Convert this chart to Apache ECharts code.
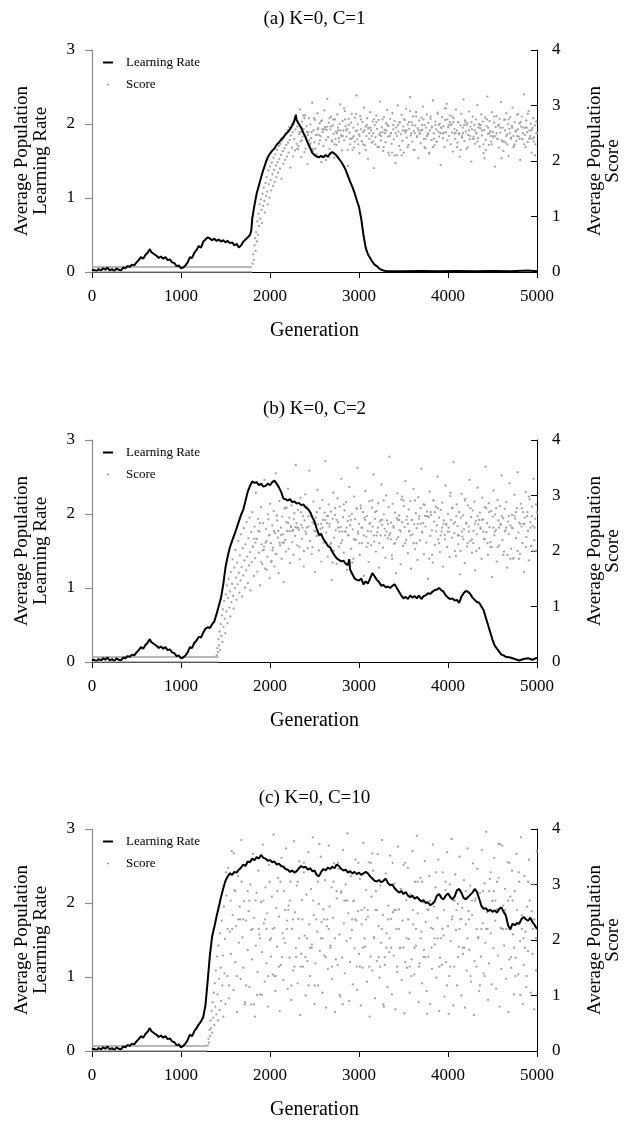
<!DOCTYPE html>
<html>
<head>
<meta charset="utf-8">
<script src="https://cdn.jsdelivr.net/npm/echarts@6/dist/echarts.min.js"></script>
<style>
html,body{margin:0;padding:0;background:#fff;}
#chart{width:629px;height:1121px;}
</style>
</head>
<body>
<div id="chart"></div>
<script>
// ---------- DATA ----------
const titles = ['(a) K=0, C=1', '(b) K=0, C=2', '(c) K=0, C=10'];
const legendNames = ['Learning Rate', 'Score'];
const xTitle = 'Generation';
const leftTitle = 'Average Population\nLearning Rate';
const rightTitle = 'Average Population\nScore';

// learning rate, generations 0..1000 (identical start in all runs)
const rateEarly = [[0,0.02],[25,0.03],[50,0.01],[75,0.04],[100,0.02],[125,0.05],[150,0.03],[175,0.06],[200,0.02],[225,0.04],[250,0.01],[275,0.05],[300,0.03],[325,0.02],[350,0.06],[375,0.05],[400,0.08],[425,0.07],[450,0.1],[475,0.09],[500,0.13],[525,0.16],[550,0.2],[575,0.18],[600,0.23],[625,0.26],[650,0.31],[665,0.27],[680,0.29],[700,0.24],[725,0.22],[750,0.19],[775,0.21],[800,0.18],[825,0.2],[850,0.16],[875,0.17],[900,0.13],[925,0.12],[950,0.08],[975,0.09],[1000,0.05]];

const rateA = [[1025,0.06],[1050,0.09],[1075,0.13],[1100,0.2],[1125,0.19],[1150,0.26],[1175,0.3],[1200,0.35],[1225,0.33],[1250,0.41],[1275,0.44],[1300,0.47],[1325,0.45],[1350,0.43],[1375,0.45],[1400,0.42],[1425,0.44],[1450,0.41],[1475,0.43],[1500,0.4],[1525,0.42],[1550,0.39],[1575,0.4],[1600,0.36],[1625,0.38],[1650,0.33],[1675,0.36],[1700,0.41],[1725,0.44],[1750,0.47],[1775,0.5],[1790,0.56],[1800,0.72],[1825,0.9],[1850,1.06],[1875,1.17],[1900,1.28],[1925,1.38],[1950,1.47],[1975,1.55],[2000,1.6],[2025,1.64],[2050,1.67],[2075,1.72],[2100,1.75],[2125,1.79],[2150,1.82],[2175,1.86],[2200,1.89],[2225,1.93],[2250,1.98],[2270,2.03],[2290,2.12],[2300,2.05],[2325,2.0],[2350,1.95],[2375,1.88],[2400,1.82],[2425,1.74],[2450,1.68],[2475,1.61],[2500,1.58],[2525,1.56],[2550,1.55],[2575,1.57],[2600,1.55],[2625,1.58],[2650,1.56],[2675,1.6],[2700,1.62],[2725,1.6],[2750,1.57],[2775,1.53],[2800,1.49],[2825,1.44],[2850,1.38],[2875,1.3],[2900,1.22],[2925,1.15],[2950,1.07],[2975,0.97],[3000,0.88],[3025,0.72],[3050,0.5],[3075,0.33],[3100,0.24],[3125,0.19],[3150,0.14],[3175,0.1],[3200,0.08],[3225,0.05],[3250,0.03],[3275,0.02],[3300,0.015],[3500,0.01],[3700,0.015],[3900,0.01],[4100,0.012],[4300,0.01],[4500,0.015],[4700,0.01],[4900,0.02],[5000,0.01]];

const rateB = [[1025,0.06],[1050,0.09],[1075,0.13],[1100,0.2],[1125,0.19],[1150,0.26],[1175,0.29],[1200,0.34],[1225,0.33],[1250,0.4],[1275,0.45],[1300,0.47],[1325,0.46],[1350,0.51],[1375,0.55],[1400,0.65],[1425,0.76],[1450,0.87],[1475,1.05],[1500,1.28],[1525,1.43],[1550,1.55],[1575,1.64],[1600,1.72],[1625,1.81],[1650,1.9],[1675,1.99],[1700,2.06],[1725,2.18],[1750,2.3],[1775,2.38],[1800,2.44],[1825,2.42],[1850,2.43],[1875,2.39],[1900,2.41],[1925,2.37],[1950,2.38],[1975,2.41],[2000,2.39],[2025,2.43],[2050,2.45],[2075,2.41],[2100,2.36],[2125,2.3],[2150,2.21],[2175,2.2],[2200,2.18],[2225,2.2],[2250,2.16],[2275,2.17],[2300,2.14],[2325,2.15],[2350,2.12],[2375,2.13],[2400,2.09],[2425,2.07],[2450,2.03],[2475,1.96],[2500,1.9],[2525,1.8],[2550,1.72],[2575,1.73],[2600,1.66],[2625,1.62],[2650,1.57],[2675,1.55],[2700,1.49],[2725,1.44],[2750,1.4],[2775,1.38],[2800,1.36],[2825,1.37],[2850,1.33],[2875,1.31],[2890,1.39],[2900,1.25],[2925,1.19],[2950,1.13],[2975,1.11],[3000,1.1],[3025,1.13],[3050,1.05],[3075,1.09],[3100,1.06],[3125,1.13],[3150,1.2],[3175,1.16],[3200,1.11],[3225,1.08],[3250,1.03],[3275,1.04],[3300,1.01],[3325,1.02],[3350,1.0],[3375,1.03],[3400,1.05],[3425,1.0],[3450,0.95],[3475,0.9],[3500,0.86],[3525,0.88],[3550,0.85],[3575,0.9],[3600,0.87],[3625,0.89],[3650,0.86],[3675,0.9],[3700,0.85],[3725,0.89],[3750,0.9],[3775,0.93],[3800,0.92],[3825,0.95],[3850,0.97],[3875,0.98],[3900,1.0],[3925,0.97],[3950,0.95],[3975,0.9],[4000,0.87],[4025,0.85],[4050,0.86],[4075,0.83],[4100,0.84],[4125,0.8],[4150,0.88],[4175,0.93],[4200,0.96],[4225,0.95],[4250,0.92],[4275,0.87],[4300,0.84],[4325,0.81],[4350,0.8],[4375,0.75],[4400,0.7],[4425,0.6],[4450,0.5],[4475,0.4],[4500,0.3],[4525,0.22],[4550,0.18],[4575,0.14],[4600,0.1],[4625,0.09],[4650,0.07],[4700,0.06],[4750,0.04],[4800,0.02],[4850,0.04],[4900,0.05],[4950,0.03],[5000,0.06]];

const rateC = [[1025,0.07],[1050,0.1],[1075,0.15],[1100,0.22],[1125,0.2],[1150,0.27],[1175,0.31],[1200,0.36],[1225,0.4],[1250,0.46],[1275,0.62],[1300,0.95],[1325,1.3],[1350,1.55],[1375,1.68],[1400,1.82],[1425,1.95],[1450,2.08],[1475,2.2],[1500,2.3],[1525,2.36],[1550,2.4],[1575,2.38],[1600,2.42],[1625,2.41],[1650,2.45],[1675,2.48],[1700,2.52],[1725,2.5],[1750,2.56],[1775,2.55],[1800,2.6],[1825,2.58],[1850,2.62],[1875,2.6],[1900,2.65],[1925,2.61],[1950,2.6],[1975,2.57],[2000,2.58],[2025,2.55],[2050,2.56],[2075,2.52],[2100,2.53],[2125,2.5],[2150,2.49],[2175,2.46],[2200,2.45],[2225,2.42],[2250,2.44],[2275,2.41],[2300,2.43],[2325,2.47],[2350,2.5],[2375,2.48],[2400,2.49],[2425,2.45],[2450,2.47],[2475,2.43],[2500,2.44],[2525,2.38],[2550,2.36],[2575,2.42],[2600,2.46],[2625,2.44],[2650,2.48],[2675,2.46],[2700,2.49],[2725,2.47],[2750,2.52],[2775,2.5],[2800,2.46],[2825,2.44],[2850,2.45],[2875,2.41],[2900,2.43],[2925,2.4],[2950,2.42],[2975,2.39],[3000,2.41],[3025,2.38],[3050,2.4],[3075,2.42],[3100,2.4],[3125,2.36],[3150,2.33],[3175,2.3],[3200,2.29],[3225,2.31],[3250,2.28],[3275,2.3],[3300,2.33],[3325,2.27],[3350,2.24],[3375,2.25],[3400,2.2],[3425,2.17],[3450,2.14],[3475,2.16],[3500,2.12],[3525,2.15],[3550,2.1],[3575,2.08],[3600,2.1],[3625,2.06],[3650,2.08],[3675,2.05],[3700,2.02],[3725,2.04],[3750,2.0],[3775,2.01],[3800,1.97],[3825,1.99],[3850,2.02],[3875,2.1],[3900,2.12],[3925,2.07],[3950,2.05],[3975,2.1],[4000,2.13],[4025,2.08],[4050,2.05],[4075,2.09],[4100,2.17],[4125,2.19],[4150,2.14],[4175,2.07],[4200,2.05],[4225,2.08],[4250,2.11],[4275,2.14],[4300,2.19],[4325,2.15],[4350,2.06],[4375,1.96],[4400,1.92],[4425,1.93],[4450,1.89],[4475,1.91],[4500,1.88],[4525,1.9],[4550,1.87],[4575,1.92],[4600,1.94],[4625,1.88],[4650,1.83],[4675,1.7],[4700,1.64],[4725,1.72],[4750,1.7],[4775,1.73],[4800,1.72],[4825,1.78],[4850,1.81],[4875,1.78],[4900,1.76],[4925,1.8],[4950,1.74],[4975,1.7],[5000,1.65]];

// score before take-off (two flat traces along the bottom)
const scoreFlatA = [[0,0.09],[1800,0.09]];
const scoreZeroA = [[0,0],[1800,0]];
const scoreFlatB = [[0,0.09],[1420,0.09]];
const scoreZeroB = [[0,0],[1420,0]];
const scoreFlatC = [[0,0.09],[1290,0.09]];
const scoreZeroC = [[0,0],[1290,0]];

// score samples (right axis)
const scoreA = [[1803,0.15],[1811,0.32],[1818,0.22],[1826,0.48],[1832,0.61],[1839,0.38],[1845,0.72],[1852,0.55],[1858,0.91],[1864,0.67],[1871,1.05],[1877,0.83],[1884,1.22],[1890,0.96],[1897,1.31],[1903,1.12],[1910,0.88],[1916,1.41],[1923,1.19],[1929,1.52],[1936,1.28],[1942,1.07],[1949,1.6],[1955,1.37],[1962,1.71],[1968,1.45],[1975,1.22],[1981,1.83],[1988,1.58],[1994,1.34],[2001,1.9],[2008,1.66],[2014,1.47],[2021,1.97],[2027,1.76],[2034,1.55],[2040,2.06],[2047,1.84],[2053,1.62],[2060,2.12],[2066,1.92],[2073,1.71],[2079,2.2],[2086,1.98],[2092,1.79],[2099,2.27],[2105,2.04],[2112,1.86],[2118,2.31],[2125,2.11],[2131,1.68],[2138,2.37],[2144,2.18],[2151,1.95],[2157,2.42],[2164,2.23],[2170,2.02],[2177,2.5],[2183,2.29],[2190,2.08],[2196,2.55],[2203,2.33],[2209,2.15],[2216,2.61],[2222,2.38],[2229,1.88],[2235,2.46],[2242,2.66],[2248,2.24],[2255,2.52],[2261,2.08],[2268,2.71],[2274,2.4],[2281,2.19],[2287,2.57],[2294,2.83],[2300,2.31],
[2307,2.62],[2318,2.21],[2326,2.48],[2335,2.93],[2341,2.35],[2352,2.07],[2360,2.71],[2367,2.44],[2378,2.58],[2386,2.16],[2393,2.82],[2404,2.39],[2411,2.63],[2420,1.94],[2431,2.52],[2437,2.77],[2448,2.29],[2455,2.66],[2463,2.41],[2474,3.05],[2481,2.18],[2490,2.55],[2499,2.34],[2507,2.74],[2516,2.47],[2524,2.12],[2533,2.86],[2542,2.59],[2550,2.31],[2558,2.68],[2567,2.45],[2576,1.98],[2584,2.73],[2593,2.52],[2601,2.27],[2610,2.91],[2619,2.61],[2627,2.38],[2636,2.56],[2644,3.12],[2653,2.43],[2661,2.69],[2670,2.22],[2679,2.57],[2687,2.8],[2696,2.35],[2704,2.64],[2713,2.49],[2722,2.06],[2730,2.75],[2739,2.53],[2747,2.29],[2756,2.84],[2765,2.6],[2773,2.41],[2782,2.67],[2790,3.02],[2799,2.46],[2808,2.19],[2816,2.72],[2825,2.55],[2833,2.37],[2842,2.9],[2851,2.63],[2859,2.44],[2868,2.58],[2876,1.91],[2885,2.76],[2894,2.51],[2902,2.3],[2911,2.69],[2919,2.85],[2928,2.42],[2937,2.6],[2945,2.24],[2954,2.78],[2962,2.54],[2971,3.18],[2980,2.39],[2988,2.66],[2997,2.48],[3005,2.14],[3014,2.81],[3023,2.57],[3031,2.36],[3040,2.7],[3048,2.52],[3057,2.96],[3066,2.28],[3074,2.62],[3083,2.45],[3091,2.77],[3100,2.04],[3109,2.59],[3117,2.4],[3126,2.88],[3134,2.55],[3143,2.33],[3152,2.71],[3160,2.5],[3169,1.87],[3177,2.65],[3186,2.43],[3195,2.82],[3203,2.58],[3212,2.26],[3220,2.74],[3229,2.47],[3238,3.07],[3246,2.37],[3255,2.61],[3263,2.52],[3272,2.18],[3281,2.79],[3289,2.56],[3298,2.34],[3306,2.68],[3315,2.92],[3324,2.44],[3332,2.63],[3341,2.1],[3349,2.76],[3358,2.5],[3367,2.31],[3375,2.86],[3384,2.57],[3392,2.39],[3401,2.72],[3410,1.96],[3418,2.6],[3427,2.45],[3435,3.0],[3444,2.53],[3453,2.27],[3461,2.69],[3470,2.48],[3478,2.83],[3487,2.36],[3496,2.62],[3504,2.15],[3513,2.74],[3521,2.51],[3530,2.94],[3539,2.42],[3547,2.66],[3556,2.29],[3564,2.58],[3573,3.15],[3582,2.46],[3590,2.7],[3599,2.35],[3607,2.8],[3616,2.54],[3625,2.2],[3633,2.64],[3642,2.88],[3650,2.43],[3659,2.59],[3668,2.05],[3676,2.73],[3685,2.49],[3693,2.32],[3702,2.78],[3711,2.56],[3719,2.98],[3728,2.4],[3736,2.65],[3745,2.23],[3754,2.6],[3762,2.84],[3771,2.47],[3779,2.69],[3788,2.13],[3797,2.55],[3805,2.76],[3814,2.38],[3822,2.62],[3831,3.09],[3840,2.5],[3848,2.28],[3857,2.71],[3865,2.57],[3874,2.35],[3883,2.87],[3891,2.53],[3900,2.44],[3908,2.67],[3917,1.93],[3926,2.6],[3934,2.79],[3943,2.41],[3951,2.63],[3960,2.25],[3969,2.74],[3977,2.52],[3986,3.03],[3994,2.37],
[4003,2.61],[4012,2.45],[4020,2.82],[4029,2.3],[4037,2.66],[4046,2.51],[4055,2.17],[4063,2.77],[4072,2.58],[4080,2.4],[4089,2.93],[4098,2.55],[4106,2.33],[4115,2.7],[4123,2.48],[4132,2.08],[4141,2.64],[4149,2.85],[4158,2.42],[4166,2.6],[4175,3.11],[4184,2.36],[4192,2.73],[4201,2.53],[4209,2.22],[4218,2.68],[4227,2.47],[4235,2.89],[4244,2.39],[4252,2.62],[4261,1.99],[4270,2.57],[4278,2.8],[4287,2.44],[4295,2.65],[4304,2.31],[4313,2.75],[4321,2.5],[4330,3.01],[4338,2.41],[4347,2.67],[4356,2.26],[4364,2.59],[4373,2.84],[4381,2.46],[4390,2.71],[4399,2.14],[4407,2.56],[4416,2.78],[4424,2.38],[4433,2.63],[4442,3.16],[4450,2.49],[4459,2.29],[4467,2.72],[4476,2.54],[4485,2.35],[4493,2.88],[4502,2.52],[4510,2.43],[4519,2.69],[4528,1.9],[4536,2.61],[4545,2.81],[4553,2.4],[4562,2.64],[4571,2.24],[4579,2.76],[4588,2.51],[4596,3.06],[4605,2.37],[4614,2.6],[4622,2.18],[4631,2.74],[4639,2.55],[4648,2.33],[4657,2.86],[4665,2.48],[4674,2.66],[4682,2.09],[4691,2.58],[4700,2.79],[4708,2.42],[4717,2.63],[4725,2.96],[4734,2.45],[4743,2.27],[4751,2.7],[4760,2.53],[4768,2.36],[4777,2.83],[4786,2.57],[4794,2.44],[4803,2.68],[4811,2.02],[4820,2.62],[4829,2.8],[4837,2.39],[4846,2.6],[4854,3.2],[4863,2.47],[4872,2.25],[4880,2.73],[4889,2.52],[4897,2.34],[4906,2.9],[4915,2.55],[4923,2.41],[4932,2.67],[4940,2.15],[4949,2.59],[4958,2.77],[4966,2.43],[4975,2.64],[4983,2.3],[4992,2.71],[4999,2.5]];

const scoreA2 = [[2305,2.22],[2319,2.27],[2332,2.52],[2346,2.52],[2359,2.37],[2373,2.82],[2386,2.77],[2400,2.22],[2413,2.52],[2427,2.47],[2440,2.37],[2454,2.32],[2467,2.52],[2481,2.22],[2494,2.77],[2508,2.22],[2521,2.47],[2535,2.57],[2548,2.47],[2562,2.37],[2575,2.72],[2589,2.57],[2602,2.57],[2616,2.57],[2629,2.02],[2643,2.62],[2656,2.07],[2670,2.77],[2683,2.62],[2697,2.37],[2710,2.75],[2724,2.3],[2737,2.4],[2751,2.5],[2764,2.55],[2778,2.35],[2791,2.55],[2805,2.45],[2818,2.45],[2832,2.95],[2845,2.75],[2859,2.55],[2872,2.2],[2886,2.65],[2899,2.4],[2913,2.4],[2926,2.2],[2940,2.45],[2953,2.35],[2967,2.85],[2980,2.55],[2994,2.3],[3007,2.45],[3021,2.75],[3034,2.35],[3048,2.3],[3061,2.55],[3075,2.2],[3088,2.65],[3102,2.6],[3115,2.5],[3129,2.6],[3142,2.45],[3156,2.35],[3169,2.75],[3183,2.3],[3196,2.7],[3210,2.25],[3223,2.25],[3237,2.5],[3250,2.45],[3264,2.75],[3277,2.25],[3291,2.5],[3304,2.55],[3318,2.65],[3331,2.15],[3345,2.45],[3358,2.5],[3372,2.15],[3385,2.65],[3399,2.1],[3412,2.5],[3426,2.1],[3439,2.65],[3453,2.7],[3466,2.2],[3480,2.1],[3493,2.55],[3507,2.75],[3520,2.55],[3534,2.55],[3547,2.25],[3561,2.7],[3574,2.9],[3588,2.5],[3601,2.65],[3615,2.2],[3628,2.5],[3642,2.8],[3655,2.45],[3669,2.55],[3682,2.5],[3696,2.55],[3709,2.65],[3723,2.75],[3736,2.25],[3750,2.4],[3763,2.45],[3777,2.5],[3790,2.15],[3804,2.8],[3817,2.6],[3831,2.25],[3844,2.4],[3858,2.65],[3871,2.35],[3885,2.85],[3898,2.65],[3912,2.5],[3925,2.6],[3939,2.5],[3952,2.5],[3966,2.95],[3979,2.95],[3993,2.75],[4006,2.65],[4020,2.7],[4033,2.65],[4047,2.8],[4060,2.7],[4074,2.5],[4087,2.5],[4101,2.25],[4114,2.7],[4128,2.5],[4141,2.2],[4155,2.45],[4168,2.5],[4182,2.65],[4195,2.7],[4209,2.65],[4222,2.25],[4236,2.55],[4249,2.45],[4263,2.7],[4276,2.4],[4290,2.4],[4303,2.55],[4317,2.5],[4330,2.35],[4344,2.6],[4357,2.65],[4371,2.65],[4384,2.55],[4398,2.3],[4411,2.05],[4425,2.2],[4438,2.75],[4452,2.6],[4465,2.5],[4479,2.45],[4492,2.3],[4506,2.45],[4519,2.8],[4533,2.45],[4546,2.5],[4560,2.4],[4573,2.65],[4587,2.6],[4600,2.05],[4614,2.35],[4627,2.35],[4641,2.75],[4654,2.45],[4668,2.3],[4681,2.75],[4695,2.5],[4708,2.4],[4722,2.6],[4735,2.25],[4749,2.3],[4762,2.55],[4776,2.45],[4789,2.85],[4803,2.4],[4816,2.7],[4830,2.4],[4843,2.5],[4857,2.3],[4870,2.6],[4884,2.6],[4897,2.85],[4911,2.4],[4924,2.45],[4938,2.55],[4951,2.4],[4965,2.35],[4978,2.1],[4992,2.5]];

const scoreB = [[1402,0.12],[1409,0.25],[1415,0.18],[1421,0.41],[1428,0.3],[1434,0.55],[1440,0.22],[1447,0.68],[1453,0.47],[1459,0.84],[1466,0.36],[1472,0.95],[1478,0.63],[1485,1.1],[1491,0.78],[1497,0.52],[1504,1.22],[1510,0.91],[1516,1.38],[1523,0.7],[1529,1.15],[1535,1.5],[1542,0.98],[1548,1.27],[1554,0.82],[1561,1.62],[1567,1.08],[1573,1.41],[1580,1.85],[1586,1.19],[1592,0.96],[1599,1.7],[1605,1.33],[1611,2.02],[1618,1.52],[1624,1.12],[1630,1.79],[1637,1.4],[1643,2.18],[1649,1.61],[1656,1.25],[1662,1.92],[1668,1.47],[1675,2.3],[1681,1.71],[1687,1.18],[1694,2.05],[1700,1.56],[1706,2.41],[1713,1.83],[1719,1.34],[1725,2.12],[1732,1.65],[1738,2.52],[1744,1.9],[1751,1.42],[1757,2.23],[1763,1.74],[1770,2.6],[1776,1.98],[1782,1.29],[1789,2.34],[1795,1.8],
[1802,2.7],[1810,2.08],[1818,1.55],[1826,2.44],[1834,1.87],[1842,3.05],[1850,2.22],[1858,1.63],[1866,2.58],[1874,1.97],[1882,2.35],[1890,1.38],[1898,2.79],[1906,2.12],[1914,1.76],[1922,2.5],[1930,2.02],[1938,3.28],[1946,1.68],[1954,2.4],[1962,2.18],[1970,1.9],[1978,2.66],[1986,2.28],[1994,1.51],[2002,2.85],[2010,2.14],[2018,1.82],[2026,2.46],[2034,2.06],[2042,2.72],[2050,1.72],[2058,2.32],[2066,3.4],[2074,1.95],[2082,2.55],[2090,2.24],[2098,1.6],[2106,2.9],[2114,2.1],[2122,2.42],[2130,1.86],[2138,2.62],[2146,2.3],[2154,1.44],[2162,2.76],[2170,2.2],[2178,1.99],[2186,2.52],[2194,2.36],[2202,3.12],[2210,2.04],[2218,2.6],[2226,1.78],[2234,2.45],[2242,2.82],[2250,2.16],[2258,2.38],[2266,1.93],[2274,2.68],[2282,2.27],[2290,3.55],[2298,2.5],
[2307,2.1],[2316,2.74],[2325,2.38],[2334,1.85],[2343,2.96],[2352,2.47],[2361,2.22],[2370,2.63],[2379,1.72],[2388,2.55],[2397,3.02],[2406,2.31],[2415,2.8],[2424,2.05],[2433,2.44],[2442,3.45],[2451,2.18],[2460,2.68],[2469,1.95],[2478,2.52],[2487,2.89],[2496,2.36],[2505,1.62],[2514,2.6],[2523,2.27],[2532,3.1],[2541,2.48],[2550,2.01],[2559,2.77],[2568,2.4],[2577,1.81],[2586,2.92],[2595,2.56],[2604,2.15],[2613,2.69],[2622,3.62],[2631,2.33],[2640,2.5],[2649,1.9],[2658,2.84],[2667,2.44],[2676,2.12],[2685,2.71],[2694,1.48],[2703,2.58],[2712,3.05],[2721,2.24],[2730,2.65],[2739,2.37],[2748,1.77],[2757,2.95],[2766,2.52],[2775,2.08],[2784,2.8],[2793,2.43],[2802,3.3],[2811,2.19],[2820,2.61],[2829,1.97],[2838,2.73],[2847,2.35],[2856,2.88],[2865,1.66],[2874,2.54],[2883,2.29],[2892,3.15],[2901,2.46],[2910,2.04],[2919,2.67],[2928,2.39],[2937,1.86],[2946,2.98],[2955,2.57],[2964,2.2],[2973,2.76],[2982,3.5],[2991,2.31],[3000,2.49],[3009,1.93],[3018,2.82],[3027,2.42],[3036,2.14],[3045,2.7],[3054,1.55],[3063,2.6],[3072,3.08],[3081,2.26],[3090,2.63],[3099,2.36],[3108,1.8],[3117,2.9],[3126,2.5],[3135,2.1],[3144,2.78],[3153,2.44],[3162,3.38],[3171,2.17],[3180,2.58],[3189,1.99],[3198,2.72],[3207,2.34],[3216,2.86],[3225,1.7],[3234,2.53],[3243,2.28],[3252,3.2],[3261,2.47],[3270,2.06],[3279,2.66],[3288,2.4],[3297,1.88],[3306,3.0],[3315,2.55],[3324,2.23],[3333,2.79],[3342,3.7],[3351,2.32],[3360,2.51],[3369,1.92],[3378,2.85],[3387,2.45],[3396,2.13],[3405,2.69],[3414,1.6],[3423,2.59],[3432,3.04],[3441,2.25],[3450,2.64],[3459,2.38],[3468,1.76],[3477,2.93],[3486,2.52],[3495,2.09],[3504,2.81],[3513,2.43],[3522,3.26],[3531,2.2],[3540,2.62],[3549,1.96],[3558,2.75],[3567,2.36],[3576,2.9],[3585,1.68],[3594,2.56],[3603,2.3],[3612,3.12],[3621,2.48],[3630,2.03],[3639,2.68],[3648,2.41],[3657,1.84],[3666,2.97],[3675,2.58],[3684,2.19],[3693,2.77],[3702,3.48],[3711,2.33],[3720,2.5],[3729,1.94],[3738,2.83],[3747,2.44],[3756,2.15],[3765,2.71],[3774,1.5],[3783,2.61],[3792,3.07],[3801,2.27],[3810,2.65],[3819,2.37],[3828,1.79],[3837,2.91],[3846,2.53],[3855,2.11],[3864,2.8],[3873,2.46],[3882,3.34],[3891,2.21],[3900,2.6],[3909,1.98],[3918,2.74],[3927,2.35],[3936,2.87],[3945,1.72],[3954,2.55],[3963,2.29],[3972,3.18],[3981,2.47],[3990,2.07],[3999,2.67],
[4008,2.42],[4017,1.89],[4026,2.99],[4035,2.56],[4044,2.24],[4053,2.78],[4062,3.6],[4071,2.32],[4080,2.52],[4089,1.91],[4098,2.84],[4107,2.45],[4116,2.12],[4125,2.7],[4134,1.58],[4143,2.6],[4152,3.03],[4161,2.26],[4170,2.64],[4179,2.39],[4188,1.78],[4197,2.94],[4206,2.51],[4215,2.08],[4224,2.82],[4233,2.44],[4242,3.28],[4251,2.18],[4260,2.61],[4269,1.97],[4278,2.73],[4287,2.36],[4296,2.89],[4305,1.65],[4314,2.54],[4323,2.3],[4332,3.14],[4341,2.48],[4350,2.05],[4359,2.69],[4368,2.4],[4377,1.86],[4386,2.96],[4395,2.57],[4404,2.22],[4413,2.79],[4422,3.52],[4431,2.34],[4440,2.5],[4449,1.93],[4458,2.86],[4467,2.43],[4476,2.16],[4485,2.72],[4494,1.53],[4503,2.62],[4512,3.09],[4521,2.28],[4530,2.66],[4539,2.38],[4548,1.81],[4557,2.92],[4566,2.55],[4575,2.1],[4584,2.81],[4593,2.47],[4602,3.36],[4611,2.2],[4620,2.59],[4629,1.99],[4638,2.76],[4647,2.37],[4656,2.88],[4665,1.7],[4674,2.53],[4683,2.31],[4692,3.22],[4701,2.46],[4710,2.04],[4719,2.65],[4728,2.41],[4737,1.87],[4746,3.01],[4755,2.58],[4764,2.23],[4773,2.77],[4782,3.42],[4791,2.33],[4800,2.51],[4809,1.95],[4818,2.85],[4827,2.44],[4836,2.14],[4845,2.7],[4854,1.62],[4863,2.6],[4872,3.06],[4881,2.25],[4890,2.63],[4899,2.36],[4908,1.83],[4917,2.93],[4926,2.52],[4935,2.09],[4944,2.8],[4953,2.45],[4962,3.3],[4971,2.19],[4980,2.58],[4989,2.0],[4998,2.7]];

const scoreB2 = [[1805,2.08],[1821,2.22],[1837,2.15],[1853,2.22],[1869,2.36],[1885,2.5],[1901,1.8],[1917,2.01],[1933,2.08],[1949,2.15],[1965,1.66],[1981,2.57],[1997,2.29],[2013,1.8],[2029,2.01],[2045,2.36],[2061,1.94],[2077,2.64],[2093,2.36],[2109,2.15],[2125,2.29],[2141,2.15],[2157,2.15],[2173,2.78],[2189,2.78],[2205,2.5],[2221,2.36],[2237,2.43],[2253,2.36],[2269,2.57],[2285,2.43],[2301,2.42],[2317,2.42],[2333,2.07],[2349,2.7],[2365,2.42],[2381,2.0],[2397,2.35],[2413,2.42],[2429,2.63],[2445,2.7],[2461,2.63],[2477,2.07],[2493,2.49],[2509,2.35],[2525,2.7],[2541,2.28],[2557,2.28],[2573,2.49],[2589,2.42],[2605,2.21],[2621,2.56],[2637,2.63],[2653,2.63],[2669,2.49],[2685,2.14],[2701,1.79],[2717,2.0],[2733,2.77],[2749,2.56],[2765,2.42],[2781,2.35],[2797,2.14],[2813,2.35],[2829,2.84],[2845,2.35],[2861,2.42],[2877,2.28],[2893,2.63],[2909,2.56],[2925,1.79],[2941,2.21],[2957,2.21],[2973,2.77],[2989,2.35],[3005,2.14],[3021,2.77],[3037,2.42],[3053,2.28],[3069,2.56],[3085,2.07],[3101,2.14],[3117,2.49],[3133,2.35],[3149,2.91],[3165,2.28],[3181,2.7],[3197,2.28],[3213,2.42],[3229,2.14],[3245,2.56],[3261,2.56],[3277,2.91],[3293,2.28],[3309,2.35],[3325,2.49],[3341,2.28],[3357,2.21],[3373,1.86],[3389,2.42],[3405,2.14],[3421,2.21],[3437,2.56],[3453,2.56],[3469,2.35],[3485,2.98],[3501,2.91],[3517,2.14],[3533,2.56],[3549,2.49],[3565,2.35],[3581,2.28],[3597,2.56],[3613,2.14],[3629,2.91],[3645,2.14],[3661,2.49],[3677,2.63],[3693,2.49],[3709,2.35],[3725,2.84],[3741,2.63],[3757,2.63],[3773,2.63],[3789,1.86],[3805,2.7],[3821,1.93],[3837,2.91],[3853,2.7],[3869,2.35],[3885,2.77],[3901,2.14],[3917,2.28],[3933,2.42],[3949,2.49],[3965,2.21],[3981,2.49],[3997,2.35],[4013,2.35],[4029,3.05],[4045,2.77],[4061,2.49],[4077,2.0],[4093,2.63],[4109,2.28],[4125,2.28],[4141,2.0],[4157,2.35],[4173,2.21],[4189,2.91],[4205,2.49],[4221,2.14],[4237,2.35],[4253,2.77],[4269,2.21],[4285,2.14],[4301,2.49],[4317,2.0],[4333,2.63],[4349,2.56],[4365,2.42],[4381,2.56],[4397,2.35],[4413,2.21],[4429,2.77],[4445,2.14],[4461,2.7],[4477,2.07],[4493,2.07],[4509,2.42],[4525,2.35],[4541,2.77],[4557,2.07],[4573,2.42],[4589,2.49],[4605,2.63],[4621,1.93],[4637,2.35],[4653,2.42],[4669,1.93],[4685,2.63],[4701,1.86],[4717,2.42],[4733,1.86],[4749,2.63],[4765,2.7],[4781,2.0],[4797,1.86],[4813,2.49],[4829,2.77],[4845,2.49],[4861,2.49],[4877,2.07],[4893,2.7],[4909,2.98],[4925,2.42],[4941,2.63],[4957,2.0],[4973,2.42],[4989,2.84]];

const scoreC = [[1302,0.1],[1308,0.22],[1314,0.15],[1320,0.38],[1326,0.27],[1332,0.55],[1338,0.41],[1344,0.72],[1350,0.33],[1356,0.88],[1362,0.6],[1368,1.05],[1374,0.47],[1380,1.22],[1386,0.8],[1392,1.45],[1398,0.66],[1404,1.7],[1410,1.02],[1416,0.55],[1422,1.9],[1428,1.3],[1434,0.74],[1440,2.12],[1446,1.5],[1452,0.9],[1458,2.35],[1464,1.18],[1470,1.72],[1476,0.62],[1482,2.6],[1488,1.4],[1494,2.02],[1500,0.85],
[1510,2.8],[1520,1.35],[1530,3.3],[1540,0.95],[1550,2.15],[1560,1.75],[1570,3.6],[1580,2.45],[1590,1.1],[1600,2.9],[1610,1.6],[1620,2.25],[1630,0.7],[1640,3.15],[1650,1.95],[1660,2.6],[1670,1.3],[1680,3.8],[1690,2.05],[1700,1.5],[1710,2.7],[1720,0.88],[1730,2.35],[1740,3.4],[1750,1.82],[1760,2.52],[1770,1.15],[1780,3.0],[1790,2.18],[1800,1.65],[1810,3.55],[1820,2.4],[1830,0.62],[1840,1.9],[1850,2.85],[1860,1.42],[1870,3.25],[1880,2.1],[1890,1.02],[1900,2.68],[1910,1.78],[1920,3.72],[1930,2.3],[1940,1.25],[1950,2.95],[1960,1.58],[1970,2.48],[1980,0.8],[1990,3.35],[2000,2.0],[2010,1.7],[2020,2.78],[2030,1.38],[2040,3.9],[2050,2.22],[2060,1.08],[2070,2.58],[2080,1.88],[2090,3.12],[2100,2.42],[2110,0.72],[2120,1.55],[2130,3.48],[2140,2.12],[2150,1.28],[2160,2.88],[2170,1.95],[2180,3.65],[2190,2.35],[2200,1.12],[2210,2.62],[2220,1.68],[2230,3.05],[2240,0.92],[2250,2.2],[2260,1.45],[2270,3.78],[2280,2.5],[2290,1.85],[2300,2.98],[2310,1.22],[2320,2.38],[2330,3.42],[2340,0.65],[2350,1.75],[2360,2.72],[2370,1.52],[2380,3.22],[2390,2.08],[2400,1.0],[2410,2.82],[2420,1.62],[2430,3.58],[2440,2.28],[2450,1.35],[2460,2.92],[2470,1.92],[2480,3.85],[2490,2.45],[2500,0.85],[2510,1.58],[2520,3.18],[2530,2.15],[2540,1.18],[2550,2.65],[2560,1.8],[2570,3.5],[2580,2.32],[2590,1.05],[2600,2.55],[2610,1.72],[2620,3.08],[2630,0.78],[2640,2.25],[2650,1.48],[2660,3.7],[2670,2.6],[2680,1.9],[2690,2.95],[2700,1.3],[2710,2.4],[2720,3.38],[2730,0.7],[2740,1.65],[2750,2.75],[2760,1.55],[2770,3.28],[2780,2.1],[2790,0.98],[2800,2.85],[2810,1.68],[2820,3.62],[2830,2.3],[2840,1.4],[2850,3.0],[2860,1.98],[2870,3.92],[2880,2.48],[2890,0.9],[2900,1.6],[2910,3.15],[2920,2.18],[2930,1.2],[2940,2.7],[2950,1.85],[2960,3.45],[2970,2.35],[2980,1.1],[2990,2.52],[3000,1.75],[3010,3.1],[3020,0.82],[3030,2.28],[3040,1.5],[3050,3.75],[3060,2.58],[3070,1.88],[3080,2.9],[3090,1.25],[3100,2.42],[3110,3.4],[3120,0.62],[3130,1.7],[3140,2.78],[3150,1.45],[3160,3.25],[3170,2.05],[3180,0.95],[3190,2.88],[3200,1.62],[3210,3.55],[3220,2.25],[3230,1.32],[3240,2.98],[3250,1.95],[3260,3.8],[3270,2.45],[3280,0.8],[3290,1.55],[3300,3.2],[3310,2.12],[3320,1.15],[3330,2.62],[3340,1.78],[3350,3.52],[3360,2.38],[3370,1.02],[3380,2.5],[3390,1.72],[3400,3.02],[3410,0.75],[3420,2.2],[3430,1.42],[3440,3.68],[3450,2.55],[3460,1.85],[3470,2.92],[3480,1.28],[3490,2.35],[3500,3.35],[3510,0.68],[3520,1.6],[3530,2.72],[3540,1.5],[3550,3.3],[3560,2.02],[3570,1.05],[3580,2.82],[3590,1.65],[3600,3.6],[3610,2.28],[3620,1.38],[3630,3.05],[3640,1.9],[3650,3.88],[3660,2.48],[3670,0.88],[3680,1.58],[3690,3.12],[3700,2.15],[3710,1.22],[3720,2.68],[3730,1.82],[3740,3.42],[3750,2.32],[3760,1.08],[3770,2.55],[3780,1.7],[3790,3.15],[3800,0.85],[3810,2.22],[3820,1.48],[3830,3.72],[3840,2.6],[3850,1.92],[3860,2.95],[3870,1.32],[3880,2.4],[3890,3.45],[3900,0.72],[3910,1.68],[3920,2.8],[3930,1.55],[3940,3.22],[3950,2.08],[3960,0.98],[3970,2.9],[3980,1.6],[3990,3.58],[4000,2.25],[4010,1.35],[4020,3.0],[4030,1.98],[4040,3.82],[4050,2.42],[4060,0.82],[4070,1.52],[4080,3.18],[4090,2.18],[4100,1.18],[4110,2.65],[4120,1.88],[4130,3.5],[4140,2.38],[4150,1.0],[4160,2.58],[4170,1.75],[4180,3.08],[4190,0.78],[4200,2.28],[4210,1.45],[4220,3.65],[4230,2.52],[4240,1.82],[4250,2.98],[4260,1.25],[4270,2.45],[4280,3.38],[4290,0.65],[4300,1.62],[4310,2.75],[4320,1.52],[4330,3.28],[4340,2.05],[4350,1.08],[4360,2.85],[4370,1.7],[4380,3.62],[4390,2.3],[4400,1.4],[4410,3.02],[4420,1.95],[4430,3.95],[4440,2.5],[4450,0.92],[4460,1.58],[4470,3.1],[4480,2.12],[4490,1.2],[4500,2.7],[4510,1.85],[4520,3.48],[4530,2.35],[4540,1.12],[4550,2.55],[4560,1.72],[4570,3.12],[4580,0.8],[4590,2.22],[4600,1.48],[4610,3.7],[4620,2.62],[4630,1.9],[4640,2.92],[4650,1.3],[4660,2.38],[4670,3.4],[4680,0.7],[4690,1.65],[4700,2.78],[4710,1.5],[4720,3.25],[4730,2.1],[4740,1.02],[4750,2.88],[4760,1.68],[4770,3.55],[4780,2.28],[4790,1.38],[4800,3.05],[4810,1.98],[4820,3.85],[4830,2.45],[4840,0.85],[4850,1.55],[4860,3.15],[4870,2.15],[4880,1.15],[4890,2.6],[4900,1.8],[4910,3.45],[4920,2.4],[4930,1.05],[4940,2.52],[4950,1.75],[4960,3.0],[4970,0.75],[4980,2.25],[4990,1.45],[4998,3.6]];

const scoreC2 = [[1505,3.22],[1523,2.2],[1540,1.18],[1558,2.71],[1575,2.2],[1593,3.56],[1610,2.88],[1628,1.35],[1645,2.37],[1663,2.37],[1680,3.05],[1698,2.37],[1715,0.84],[1733,1.18],[1750,2.88],[1768,2.71],[1785,0.84],[1803,2.2],[1820,0.84],[1838,2.71],[1855,1.01],[1873,2.2],[1890,2.03],[1908,1.01],[1925,2.71],[1943,2.37],[1960,2.2],[1978,1.35],[1995,3.05],[2013,2.03],[2030,2.2],[2048,1.35],[2065,1.35],[2083,2.88],[2100,1.52],[2118,3.05],[2135,1.69],[2153,2.03],[2170,2.54],[2188,2.2],[2205,2.54],[2223,2.71],[2240,1.18],[2258,2.37],[2275,1.52],[2293,1.69],[2310,3.05],[2328,2.03],[2345,1.52],[2363,2.37],[2380,3.39],[2398,1.69],[2415,2.03],[2433,1.18],[2450,1.86],[2468,1.86],[2485,2.71],[2503,1.18],[2520,2.37],[2538,3.05],[2555,3.73],[2573,2.03],[2590,2.03],[2608,2.37],[2625,1.69],[2643,2.37],[2660,2.2],[2678,1.86],[2695,1.52],[2713,3.05],[2730,2.03],[2748,2.88],[2765,3.39],[2783,1.01],[2800,2.88],[2818,0.84],[2835,2.71],[2853,2.71],[2870,2.71],[2888,3.22],[2905,2.03],[2923,2.37],[2940,2.71],[2958,2.37],[2975,1.52],[2993,3.39],[3010,1.52],[3028,2.54],[3045,1.86],[3063,2.03],[3080,2.37],[3098,2.54],[3115,1.52],[3133,3.39],[3150,3.56],[3168,2.03],[3185,2.54],[3203,2.54],[3220,1.69],[3238,1.52],[3255,2.2],[3273,0.84],[3290,1.69],[3308,1.86],[3325,2.37],[3343,2.03],[3360,1.86],[3378,3.39],[3395,2.54],[3413,2.54],[3430,1.52],[3448,2.2],[3465,1.86],[3483,2.88],[3500,1.86],[3518,3.39],[3535,2.03],[3553,2.37],[3570,1.52],[3588,1.35],[3605,2.54],[3623,1.86],[3640,2.2],[3658,3.05],[3675,1.52],[3693,2.03],[3710,3.05],[3728,1.69],[3745,1.69],[3763,0.67],[3780,2.54],[3798,2.71],[3815,1.86],[3833,2.2],[3850,2.03],[3868,3.22],[3885,2.03],[3903,1.52],[3920,2.03],[3938,2.2],[3955,2.54],[3973,3.05],[3990,1.18],[4008,0.67],[4025,1.52],[4043,2.37],[4060,2.71],[4078,2.71],[4095,2.54],[4113,1.69],[4130,2.2],[4148,2.37],[4165,1.86],[4183,1.86],[4200,2.88],[4218,2.03],[4235,2.37],[4253,1.35],[4270,2.71],[4288,2.88],[4305,2.71],[4323,2.2],[4340,2.03],[4358,1.18],[4375,2.2],[4393,2.88],[4410,1.35],[4428,2.2],[4445,2.2],[4463,2.88],[4480,3.22],[4498,2.71],[4515,2.88],[4533,2.71],[4550,3.05],[4568,3.73],[4585,3.73],[4603,2.2],[4620,2.2],[4638,2.54],[4655,2.2],[4673,2.71],[4690,3.39],[4708,1.69],[4725,2.71],[4743,1.86],[4760,1.35],[4778,2.54],[4795,3.22],[4813,1.01],[4830,2.2],[4848,2.03],[4865,1.86],[4883,1.35],[4900,3.05],[4918,2.71],[4935,2.37],[4953,2.2],[4970,2.37],[4988,2.03]];

// ---------- CHART ----------
const FONT = 'Liberation Serif, Times New Roman, serif';
const gridTops = [50, 440, 829];
const gridH = 222;
const panels = [
  {rate: rateEarly.concat(rateA), score: scoreA.concat(scoreA2), flat: scoreFlatA, zero: scoreZeroA},
  {rate: rateEarly.concat(rateB), score: scoreB.concat(scoreB2), flat: scoreFlatB, zero: scoreZeroB},
  {rate: rateEarly.concat(rateC), score: scoreC.concat(scoreC2), flat: scoreFlatC, zero: scoreZeroC}
];
const plainNum = (v) => String(v);

const option = {
  animation: false,
  backgroundColor: '#fff',
  title: titles.map((t, i) => ({
    text: t, left: 'center', top: gridTops[i] - 45,
    textStyle: {fontFamily: FONT, fontSize: 19, fontWeight: 'normal', color: '#000'}
  })),
  legend: gridTops.map((top) => ({
    orient: 'vertical', left: 103, top: top + 6, itemGap: 9, padding: 0,
    itemWidth: 10, itemHeight: 2, selectedMode: false,
    textStyle: {fontFamily: FONT, fontSize: 13, color: '#000', padding: [0, 0, 0, 8]},
    data: [
      {name: legendNames[0], icon: 'rect', itemStyle: {color: '#000'}},
      {name: legendNames[1], icon: 'circle', itemStyle: {color: '#9a9a9a'}}
    ]
  })),
  grid: gridTops.map((top) => ({left: 92, right: 92, top: top, height: gridH, outerBoundsMode: 'none'})),
  xAxis: gridTops.map((_, i) => ({
    type: 'value', gridIndex: i, min: 0, max: 5000, interval: 1000,
    name: xTitle, nameLocation: 'middle', nameGap: 49,
    nameTextStyle: {fontFamily: FONT, fontSize: 20, color: '#000'},
    axisLine: {show: true, onZero: false, lineStyle: {color: '#000', width: 1}},
    axisTick: {show: true, length: 6, lineStyle: {color: '#000'}},
    axisLabel: {fontFamily: FONT, fontSize: 17, color: '#000', margin: 16, formatter: plainNum},
    splitLine: {show: false}
  })),
  yAxis: [].concat(...gridTops.map((_, i) => ([
    {
      type: 'value', gridIndex: i, position: 'left', min: 0, max: 3, interval: 1,
      name: leftTitle, nameLocation: 'middle', nameGap: 41, nameRotate: 90,
      nameTextStyle: {fontFamily: FONT, fontSize: 19, lineHeight: 19, color: '#000', align: 'center'},
      axisLine: {show: true, lineStyle: {color: '#8c8c8c', width: 1.2}},
      axisTick: {show: true, length: 7, lineStyle: {color: '#8c8c8c', width: 1.2}},
      axisLabel: {fontFamily: FONT, fontSize: 17, color: '#000', margin: 17, formatter: plainNum},
      splitLine: {show: false}
    },
    {
      type: 'value', gridIndex: i, position: 'right', min: 0, max: 4, interval: 1,
      name: rightTitle, nameLocation: 'middle', nameGap: 49, nameRotate: 90,
      nameTextStyle: {fontFamily: FONT, fontSize: 19, lineHeight: 18, color: '#000', align: 'center'},
      axisLine: {show: true, lineStyle: {color: '#000', width: 1}},
      axisTick: {show: true, inside: true, length: 6, lineStyle: {color: '#000'}},
      axisLabel: {fontFamily: FONT, fontSize: 17, color: '#000', margin: 15, formatter: plainNum},
      splitLine: {show: false}
    }
  ]))),
  series: [].concat(...panels.map((p, i) => ([
    {
      name: legendNames[1], type: 'scatter', xAxisIndex: i, yAxisIndex: 2 * i + 1,
      data: p.score, symbol: 'circle', symbolSize: 2.3, silent: true, z: 2,
      itemStyle: {color: '#a4a4a4', opacity: 1}
    },
    {
      name: legendNames[1], type: 'line', xAxisIndex: i, yAxisIndex: 2 * i + 1,
      data: p.flat, showSymbol: false, silent: true, z: 2,
      lineStyle: {color: '#a0a0a0', width: 1.6}
    },
    {
      name: legendNames[1], type: 'line', xAxisIndex: i, yAxisIndex: 2 * i + 1,
      data: p.zero, showSymbol: false, silent: true, z: 4,
      lineStyle: {color: '#a0a0a0', width: 1.6}
    },
    {
      name: legendNames[0], type: 'line', xAxisIndex: i, yAxisIndex: 2 * i,
      data: p.rate, showSymbol: false, silent: true, z: 3,
      lineStyle: {color: '#000', width: 2}
    }
  ])))
};

const chart = echarts.init(document.getElementById('chart'), null, {renderer: 'canvas'});
chart.setOption(option);
</script>
</body>
</html>
